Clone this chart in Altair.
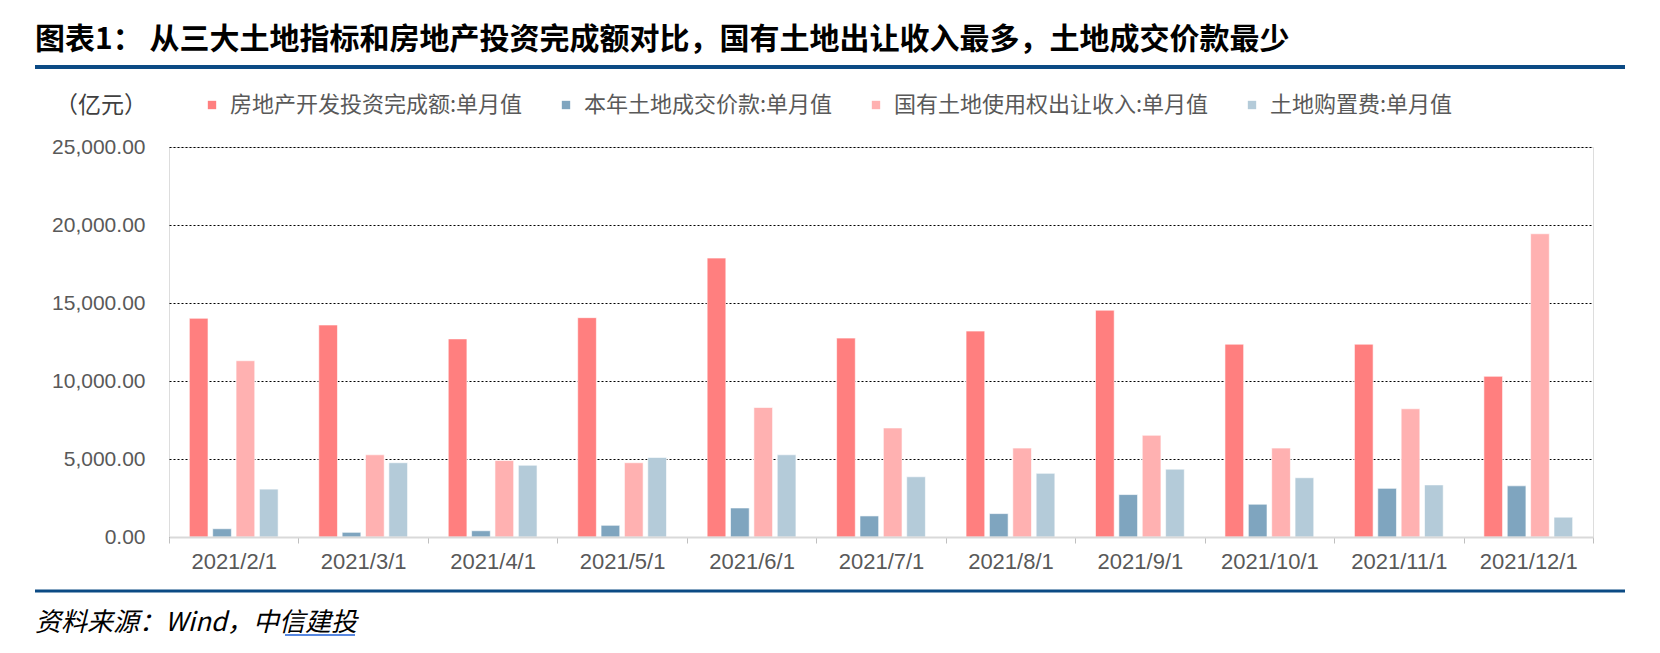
import altair as alt
import pandas as pd

months = ["2021/2/1", "2021/3/1", "2021/4/1", "2021/5/1", "2021/6/1", "2021/7/1",
          "2021/8/1", "2021/9/1", "2021/10/1", "2021/11/1", "2021/12/1"]
series = ["房地产开发投资完成额:单月值", "本年土地成交价款:单月值",
          "国有土地使用权出让收入:单月值", "土地购置费:单月值"]
invest = [14020, 13590, 12700, 14060, 17880, 12750, 13200, 14540, 12360, 12360, 10300]
land_deal = [530, 300, 400, 750, 1860, 1350, 1500, 2720, 2100, 3120, 3280]
transfer = [11300, 5270, 4900, 4760, 8300, 6990, 5700, 6520, 5700, 8220, 19440]
purchase = [3070, 4760, 4600, 5100, 5270, 3860, 4080, 4350, 3800, 3340, 1270]
colors = ["#FF7F7F", "#7FA5BF", "#FFB1B1", "#B4CBD9"]
y_ticks = [0, 5000, 10000, 15000, 20000, 25000]

title_text = "图表1：  从三大土地指标和房地产投资完成额对比，国有土地出让收入最多，土地成交价款最少"
unit_text = "（亿元）"
source_text = "资料来源：Wind，中信建投"

rows = []
for s, vals in zip(series, [invest, land_deal, transfer, purchase]):
    for m, v in zip(months, vals):
        rows.append({"month": m, "series": s, "value": v})
df = pd.DataFrame(rows)

CJK = "Noto Sans CJK SC"

bars = alt.Chart(df).mark_bar(stroke="#ffffff", strokeWidth=1, strokeOpacity=0.6).encode(
    x=alt.X("month:N", sort=months,
            scale=alt.Scale(paddingInner=0, paddingOuter=0),
            axis=alt.Axis(title=None, labelAngle=0, labelFontSize=22, labelColor="#595959",
                          labelFont="Liberation Sans", domainColor="#D9D9D9", domainWidth=2,
                          tickColor="#BFBFBF", tickSize=6, tickBand="extent",
                          labelPadding=8, zindex=1)),
    xOffset=alt.XOffset("series:N", sort=series,
                        scale=alt.Scale(paddingInner=0.2, paddingOuter=0.87)),
    y=alt.Y("value:Q", scale=alt.Scale(domain=[0, 25000], nice=False),
            axis=alt.Axis(title=None, values=y_ticks, format=",.2f", labelFontSize=21,
                          labelColor="#595959", labelFont="Liberation Sans",
                          labelPadding=24, domain=False, ticks=False,
                          gridColor="#000000", gridDash=[2, 2], gridWidth=1)),
    color=alt.Color("series:N", sort=series,
                    scale=alt.Scale(domain=series, range=colors),
                    legend=alt.Legend(title=None, orient="none", direction="horizontal",
                                      legendX=32, legendY=-53, symbolType="square",
                                      symbolSize=70, symbolStrokeWidth=0,
                                      labelFontSize=22, labelColor="#595959", labelFont=CJK,
                                      labelLimit=0, columnPadding=32, labelOffset=7,
                                      padding=0)),
)

def text_layer(txt, x, y, **kw):
    return alt.Chart(pd.DataFrame({"t": [txt]})).mark_text(**kw).encode(
        text="t:N", x=alt.value(x), y=alt.value(y))

title = text_layer(title_text, -134, -107, align="left", baseline="middle",
                   fontSize=30, fontWeight="bold", font=CJK, color="#000000")
unit = text_layer(unit_text, -68, -41, align="center", baseline="middle",
                  fontSize=23, font=CJK, color="#404040")
source = text_layer(source_text, -134, 476, align="left", baseline="middle",
                    fontSize=26, font=CJK, fontStyle="italic", color="#000000")

def hrule(x1, x2, y, width, color):
    return alt.Chart(pd.DataFrame({"a": [0]})).mark_rule(color=color, strokeWidth=width).encode(
        x=alt.value(x1), x2=alt.value(x2), y=alt.value(y))

top_line = hrule(-134, 1456, -80, 4, "#0B4A84")
bottom_line = hrule(-134, 1456, 444, 3, "#0B4A84")
link_line = hrule(116, 186, 488, 1.5, "#1F5FD6")

chart = alt.layer(bars, title, unit, source, top_line, bottom_line, link_line).properties(
    width=1424, height=390,
    padding={"left": 161, "top": 139, "right": 55, "bottom": 100},
    autosize=alt.AutoSizeParams(type="none"),
).configure_view(stroke=None).configure(font=CJK)

chart.save("out.html", embed_options={"renderer": "svg", "actions": False})
